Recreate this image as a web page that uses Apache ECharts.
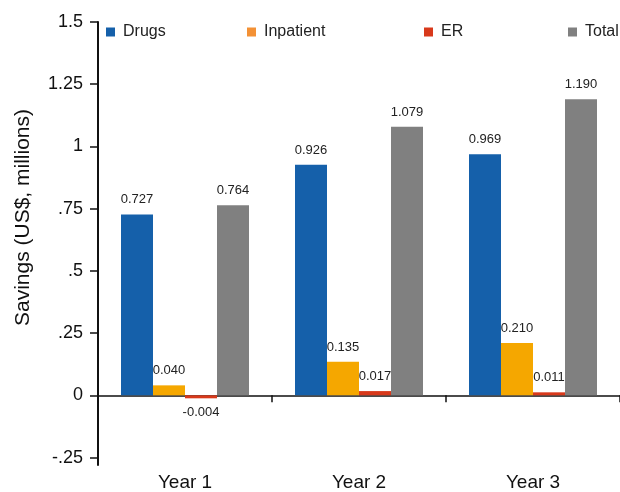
<!DOCTYPE html>
<html>
<head>
<meta charset="utf-8">
<script src="https://cdn.jsdelivr.net/npm/echarts@6/dist/echarts.min.js"></script>
<style>
  html, body { margin: 0; padding: 0; background: #fff; }
  #chart { width: 620px; height: 492px; }
</style>
</head>
<body>
<div id="chart"></div>
<script>
  // categories + series values (US$ millions)
  var years = ['Year 1', 'Year 2', 'Year 3'];
  var drugs = [0.727, 0.926, 0.969];
  var inpatient = [0.040, 0.135, 0.210];
  var er = [-0.004, 0.017, 0.011];
  var total = [0.764, 1.079, 1.190];
  var yTicks = [-0.25, 0, 0.25, 0.5, 0.75, 1, 1.25, 1.5];

  var font = 'Liberation Sans, Arial, sans-serif';

  function toItems(arr) {
    // negative values get their label under the bar
    return arr.map(function (v) {
      return v < 0 ? { value: v, label: { position: 'bottom' } } : v;
    });
  }

  function makeSeries(name, arr, color) {
    return {
      name: name,
      type: 'bar',
      xAxisIndex: 0,
      barWidth: 32,
      barGap: '0%',
      barMinHeight: 3,
      data: toItems(arr),
      itemStyle: { color: color },
      label: {
        show: true,
        position: 'top',
        distance: 8,
        fontSize: 13,
        fontFamily: font,
        color: '#222',
        formatter: function (p) { return p.value.toFixed(3); }
      }
    };
  }

  function oneLegend(name, left, color) {
    return {
      left: left,
      top: 24,
      padding: 0,
      icon: 'rect',
      itemWidth: 9,
      itemHeight: 9,
      selectedMode: false,
      textStyle: { fontSize: 16, fontFamily: font, color: '#222', padding: [0, 0, 0, 3] },
      data: [{ name: name, itemStyle: { color: color } }]
    };
  }

  var chart = echarts.init(document.getElementById('chart'));
  chart.setOption({
    animation: false,
    grid: { left: 98, right: -3, top: 22, bottom: 25 },
    legend: [
      oneLegend('Drugs', 106, '#1560AA'),
      oneLegend('Inpatient', 247, '#F39135'),
      oneLegend('ER', 424, '#D8391B'),
      oneLegend('Total', 568, '#808080')
    ],
    xAxis: [
      {
        type: 'category',
        data: years,
        position: 'bottom',
        axisLine: { onZero: true, lineStyle: { color: '#111', width: 1.5 } },
        axisTick: { show: true, length: 7, lineStyle: { color: '#111', width: 1.5 } },
        axisLabel: { show: false }
      },
      {
        type: 'category',
        data: years,
        position: 'bottom',
        axisLine: { show: false, onZero: false },
        axisTick: { show: false },
        axisLabel: { margin: 8, fontSize: 19, fontFamily: font, color: '#111' }
      }
    ],
    yAxis: {
      type: 'value',
      min: -0.28,
      max: 1.5,
      name: 'Savings (US$, millions)',
      nameLocation: 'middle',
      nameGap: 64,
      nameTextStyle: { fontSize: 21, fontFamily: font, color: '#111', padding: [0, 0, 0, 52] },
      splitLine: { show: false },
      axisLine: { show: true, lineStyle: { color: '#111', width: 2 } },
      axisTick: { show: true, length: 8, customValues: yTicks, lineStyle: { color: '#111', width: 1.5 } },
      axisLabel: {
        customValues: yTicks,
        margin: 15,
        fontSize: 18,
        fontFamily: font,
        color: '#111',
        formatter: function (v) {
          if (v === 0) return '0';
          var s = String(Math.abs(v)).replace(/^0/, '');
          return (v < 0 ? '-' : '') + s;
        }
      }
    },
    series: [
      makeSeries('Drugs', drugs, '#1560AA'),
      makeSeries('Inpatient', inpatient, '#F5A700'),
      makeSeries('ER', er, '#D8391B'),
      makeSeries('Total', total, '#808080')
    ]
  });
</script>
</body>
</html>
